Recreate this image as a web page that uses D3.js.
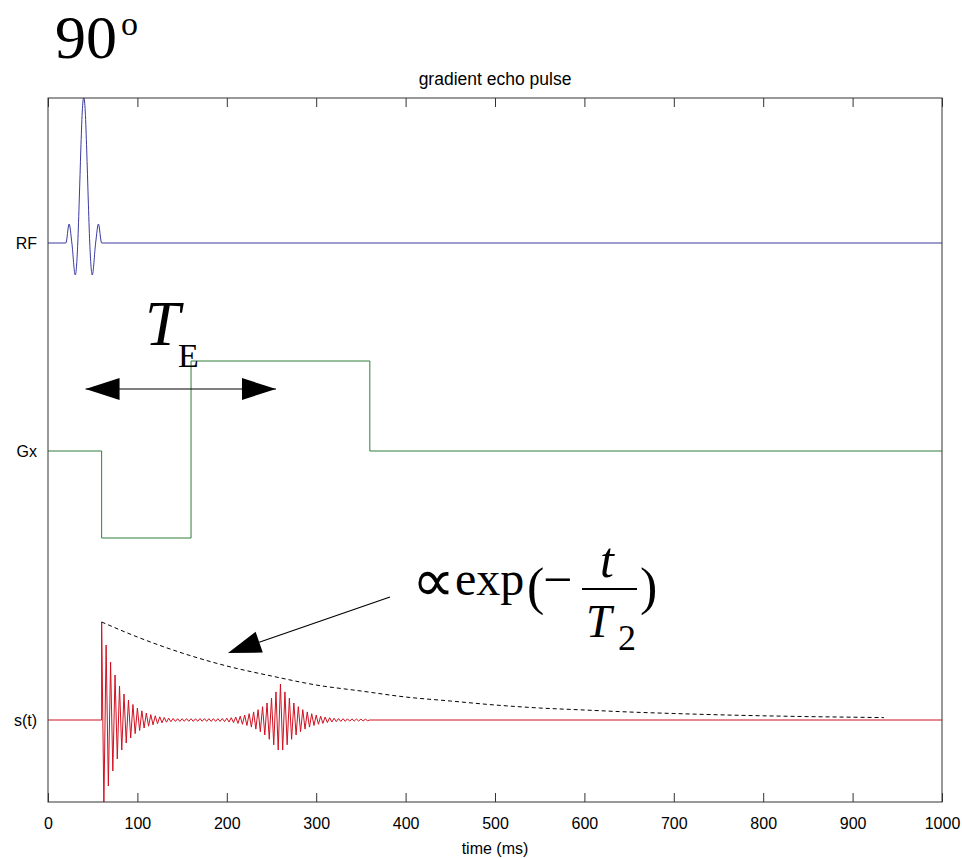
<!DOCTYPE html>
<html>
<head>
<meta charset="utf-8">
<script src="https://cdn.jsdelivr.net/npm/d3@7"></script>
<style>
  body { margin: 0; background: #fff; }
  text { fill: #000; }
</style>
</head>
<body>
<script>
// gradient echo pulse sequence: RF, Gx and the signal s(t)
// values, in "channel units" around each baseline

var channels = ["RF", "Gx", "s(t)"];
var channelLevels = [4.77, 2.69, 0];

var xTicks = [0, 100, 200, 300, 400, 500, 600, 700, 800, 900, 1000];

// RF: sinc pulse, extremes and zero crossings (ms, amplitude)
var rfTimes  = [0, 20, 23.6, 26.7, 30.5, 33.3, 35, 36.7, 38.3, 40, 41.7, 43.3, 45, 46.7, 49.5, 53.3, 56.4, 60, 1000];
var rfValues = [0, 0, 0.19, 0, -0.32, 0, 0.44, 0.93, 1.31, 1.46, 1.31, 0.93, 0.44, 0, -0.32, 0, 0.19, 0, 0];

// Gx: step gradient
var gxTimes  = [0, 60, 160, 360, 1000];
var gxValues = [0, -0.87, 0.90, 0, 0];

// s(t): signed half-cycle peaks, one every 2.5 ms starting at 60 ms
var sStart = 60;
var sStep = 2.5;
var sPeaks = [
  0.98, -0.86, 0.75, -0.66, 0.58, -0.51, 0.45, -0.39, 0.34, -0.30,
  0.26, -0.23, 0.20, -0.18, 0.155, -0.136, 0.12, -0.105, 0.092, -0.08,
  0.07, -0.062, 0.054, -0.048, 0.042, -0.037, 0.032, -0.028, 0.025, -0.022,
  0.019, -0.017, 0.015,
  -0.014, 0.013, -0.014, 0.013, -0.013, 0.014, -0.013, 0.013, -0.014, 0.013,
  -0.013, 0.014, -0.013, 0.014, -0.013, 0.013, -0.014, 0.013, -0.014, 0.013,
  -0.014, 0.015, -0.016,
  0.018, -0.020, 0.023, -0.026, 0.030, -0.034, 0.038, -0.043, 0.049, -0.055,
  0.063, -0.071, 0.081, -0.091, 0.103, -0.117, 0.133, -0.150, 0.170, -0.193,
  0.219, -0.248, 0.281, -0.300, 0.36, -0.30, 0.281, -0.248, 0.219, -0.193,
  0.170, -0.150, 0.133, -0.117, 0.103, -0.091, 0.081, -0.071, 0.063, -0.055,
  0.049, -0.043, 0.038, -0.034, 0.030, -0.026, 0.023, -0.020, 0.018,
  -0.016, 0.015, -0.014, 0.013, -0.013, 0.012, -0.012, 0.011, -0.011, 0.010,
  -0.010, 0.009, -0.009, 0.008, -0.007, 0
];

// T2 envelope (dashed)
var expTimes  = [60, 100, 150, 200, 250, 300, 350, 400, 450, 500, 550, 600, 650, 700, 750, 800, 850, 900, 935];
var expValues = [0.98, 0.83, 0.67, 0.54, 0.44, 0.35, 0.29, 0.23, 0.19, 0.15, 0.12, 0.10, 0.08, 0.065, 0.052, 0.042, 0.034, 0.028, 0.024];


var W = 962, H = 858;
var pLeft = 48, pRight = 942, pTop = 98, pBottom = 802;

var svg = d3.select('body')
  .append('svg')
  .attr('width', W)
  .attr('height', H);

var x = d3.scaleLinear().domain([0, 1000]).range([pLeft, pRight]);
var y = d3.scaleLinear().domain([-0.82, 6.22]).range([pBottom, pTop]);

var line = d3.line()
  .x(function (d) { return x(d[0]); })
  .y(function (d) { return y(d[1]); });

render();

function render() {

  svg.append('clipPath').attr('id', 'plot')
    .append('rect')
    .attr('x', pLeft).attr('y', pTop)
    .attr('width', pRight - pLeft).attr('height', pBottom - pTop);

  var plot = svg.append('g').attr('clip-path', 'url(#plot)');

  // RF
  var rf = rfTimes.map(function (t, i) { return [t, rfValues[i] + channelLevels[0]]; });
  plot.append('path')
    .attr('d', line.curve(d3.curveMonotoneX)(rf))
    .attr('fill', 'none')
    .attr('stroke', '#3a3aa0')
    .attr('stroke-width', 1);

  // Gx
  var gx = gxTimes.map(function (t, i) { return [t, gxValues[i] + channelLevels[1]]; });
  plot.append('path')
    .attr('d', line.curve(d3.curveStepAfter)(gx))
    .attr('fill', 'none')
    .attr('stroke', '#2f7f3a')
    .attr('stroke-width', 1);

  // s(t)
  var s = [[0, channelLevels[2]], [sStart, channelLevels[2]]];
  sPeaks.forEach(function (v, i) { s.push([sStart + i * sStep, v + channelLevels[2]]); });
  s.push([1000, channelLevels[2]]);
  plot.append('path')
    .attr('d', line.curve(d3.curveLinear)(s))
    .attr('fill', 'none')
    .attr('stroke', '#d01020')
    .attr('stroke-width', 1);

  // envelope
  var env = expTimes.map(function (t, i) { return [t, expValues[i] + channelLevels[2]]; });
  plot.append('path')
    .attr('d', line.curve(d3.curveMonotoneX)(env))
    .attr('fill', 'none')
    .attr('stroke', '#000')
    .attr('stroke-width', 1)
    .attr('stroke-dasharray', '4,3');

  // box
  svg.append('rect')
    .attr('x', pLeft).attr('y', pTop)
    .attr('width', pRight - pLeft).attr('height', pBottom - pTop)
    .attr('fill', 'none')
    .attr('stroke', '#333')
    .attr('stroke-width', 1);

  var xAxis = svg.append('g')
    .attr('transform', 'translate(0,' + pBottom + ')')
    .call(d3.axisBottom(x).tickValues(xTicks).tickFormat(d3.format('d'))
      .tickSizeInner(-9).tickSizeOuter(0).tickPadding(16));
  xAxis.select('.domain').remove();
  xAxis.selectAll('line').attr('stroke', '#333');
  xAxis.selectAll('text')
    .attr('font-family', 'Liberation Sans, Arial, sans-serif')
    .attr('font-size', 16)
    .attr('fill', '#000');

  var topAxis = svg.append('g')
    .attr('transform', 'translate(0,' + pTop + ')')
    .call(d3.axisTop(x).tickValues(xTicks).tickSizeInner(-9).tickSizeOuter(0).tickFormat(''));
  topAxis.select('.domain').remove();
  topAxis.selectAll('line').attr('stroke', '#333');

  // channel labels
  svg.selectAll('.chan')
    .data(channels)
    .enter()
    .append('text')
    .attr('class', 'chan')
    .attr('x', pLeft - 11)
    .attr('y', function (d, i) { return y(channelLevels[i]); })
    .attr('dy', '0.36em')
    .attr('text-anchor', 'end')
    .attr('font-family', 'Liberation Sans, Arial, sans-serif')
    .attr('font-size', 16)
    .text(function (d) { return d; });

  svg.append('text')
    .attr('x', (pLeft + pRight) / 2).attr('y', 85)
    .attr('text-anchor', 'middle')
    .attr('font-family', 'Liberation Sans, Arial, sans-serif')
    .attr('font-size', 17.5)
    .text('gradient echo pulse');

  svg.append('text')
    .attr('x', (pLeft + pRight) / 2).attr('y', 854)
    .attr('text-anchor', 'middle')
    .attr('font-family', 'Liberation Sans, Arial, sans-serif')
    .attr('font-size', 16)
    .text('time (ms)');

  // 90 degrees
  var serif = 'Liberation Serif, Times New Roman, serif';
  svg.append('text').attr('x', 55).attr('y', 58)
    .attr('font-family', serif).attr('font-size', 62).text('90');
  svg.append('text').attr('x', 121).attr('y', 35)
    .attr('font-family', serif).attr('font-size', 34).text('o');

  // T_E with double arrow
  svg.append('text').attr('x', 145).attr('y', 345)
    .attr('font-family', serif).attr('font-size', 63).attr('font-style', 'italic').text('T');
  svg.append('text').attr('x', 178).attr('y', 367)
    .attr('font-family', serif).attr('font-size', 34).text('E');

  var ay = 389;
  svg.append('line')
    .attr('x1', x(42)).attr('x2', x(255)).attr('y1', ay).attr('y2', ay)
    .attr('stroke', '#000').attr('stroke-width', 1.2);
  svg.append('path')
    .attr('d', 'M' + x(42) + ',' + ay + 'L' + (x(42) + 34) + ',' + (ay - 11) + 'L' + (x(42) + 34) + ',' + (ay + 11) + 'Z')
    .attr('fill', '#000');
  svg.append('path')
    .attr('d', 'M' + x(255) + ',' + ay + 'L' + (x(255) - 34) + ',' + (ay - 11) + 'L' + (x(255) - 34) + ',' + (ay + 11) + 'Z')
    .attr('fill', '#000');

  // exp(-t/T2) annotation arrow
  var tail = [390, 597], tip = [228, 653];
  var dx = tail[0] - tip[0], dy = tail[1] - tip[1];
  var len = Math.sqrt(dx * dx + dy * dy), ux = dx / len, uy = dy / len;
  var bx = tip[0] + 33 * ux, by = tip[1] + 33 * uy;
  svg.append('line')
    .attr('x1', bx).attr('y1', by).attr('x2', tail[0]).attr('y2', tail[1])
    .attr('stroke', '#000').attr('stroke-width', 1.2);
  svg.append('path')
    .attr('d', 'M' + tip[0] + ',' + tip[1] +
      'L' + (bx - 11 * uy) + ',' + (by + 11 * ux) +
      'L' + (bx + 11 * uy) + ',' + (by - 11 * ux) + 'Z')
    .attr('fill', '#000');

  svg.append('text').attr('x', 412).attr('y', 601)
    .attr('font-family', serif).attr('font-size', 60).text('\u221D');
  svg.append('text').attr('x', 455).attr('y', 595)
    .attr('font-family', serif).attr('font-size', 48).text('exp');
  svg.append('text').attr('x', 527).attr('y', 604)
    .attr('font-family', serif).attr('font-size', 52).text('(');
  svg.append('text').attr('x', 543).attr('y', 597)
    .attr('font-family', serif).attr('font-size', 52).text('\u2212');
  svg.append('line')
    .attr('x1', 582).attr('x2', 637).attr('y1', 589).attr('y2', 589)
    .attr('stroke', '#000').attr('stroke-width', 2);
  svg.append('text').attr('x', 600).attr('y', 577)
    .attr('font-family', serif).attr('font-size', 50).attr('font-style', 'italic').text('t');
  svg.append('text').attr('x', 586).attr('y', 637)
    .attr('font-family', serif).attr('font-size', 46).attr('font-style', 'italic').text('T');
  svg.append('text').attr('x', 618).attr('y', 650)
    .attr('font-family', serif).attr('font-size', 36).text('2');
  svg.append('text').attr('x', 640).attr('y', 604)
    .attr('font-family', serif).attr('font-size', 52).text(')');
}
</script>
</body>
</html>
